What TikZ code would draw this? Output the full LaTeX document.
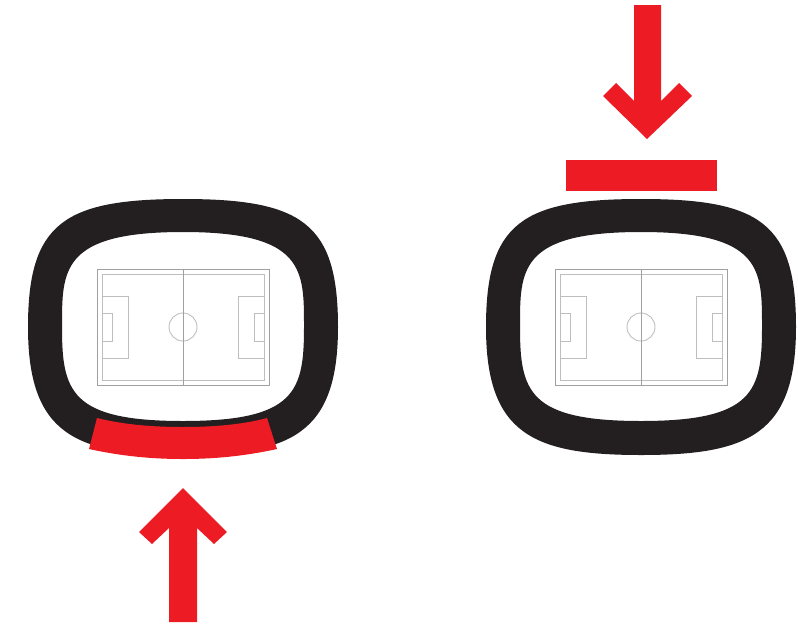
\documentclass[tikz,border=0pt]{standalone}
\definecolor{stadiumblack}{HTML}{231F20}
\definecolor{accentred}{HTML}{ED1C24}
\definecolor{pitchline}{HTML}{A0A0A0}
\definecolor{pitchlight}{HTML}{BEBEBE}
\tikzset{
  ring/.style={fill=stadiumblack,even odd rule,draw=none},
  accent/.style={fill=accentred,draw=none},
  pitchmark/.style={draw=pitchline,line width=0.9pt,fill=none},
  pitchfine/.style={draw=pitchlight,line width=0.9pt,fill=none}
}
\newcommand{\ringpath}{
  (0,-128) .. controls (-119,-128) and (-155,-104) .. (-155,0)
  .. controls (-155,107) and (-108,128) .. (0,128)
  .. controls (108,128) and (155,107) .. (155,0)
  .. controls (155,-104) and (119,-128) .. (0,-128) -- cycle
  (0,-95) .. controls (-122,-95) and (-121,-57) .. (-121,0)
  .. controls (-121,64) and (-113,94) .. (0,94)
  .. controls (113,94) and (121,64) .. (121,0)
  .. controls (121,-57) and (122,-95) .. (0,-95) -- cycle}
\newcommand{\pitchmarks}{
  \draw[pitchfine] (-81,-53) rectangle (81,53);
  \draw[pitchfine] (0,0) circle[radius=14];
  \draw[pitchfine] (-81,-31) rectangle (-55,31);
  \draw[pitchfine] (-81,-14) rectangle (-71,14);
  \draw[pitchfine] (81,-31) rectangle (55,31);
  \draw[pitchfine] (81,-14) rectangle (71,14);
  \draw[pitchmark] (-86,-58) rectangle (86,58);
  \draw[pitchmark] (0,-58) -- (0,58);
}
\begin{document}
\begin{tikzpicture}[x=1pt,y=-1pt]
\useasboundingbox (0,0) rectangle (798,625);
\begin{scope}[shift={(183,327)}]
  \fill[ring] \ringpath;
  \pitchmarks
\end{scope}
\begin{scope}[shift={(641,327)}]
  \fill[ring] \ringpath;
  \pitchmarks
\end{scope}
\fill[accent] (97,418) .. controls (125,425) and (155,427) .. (183,427)
  .. controls (211,427) and (241,425) .. (267,418) -- (277,449)
  .. controls (245,456) and (215,459) .. (183,459)
  .. controls (151,459) and (121,456) .. (89,449) -- cycle;
\fill[accent] (566,160) rectangle (717,191);
\fill[accent] (634,5) -- (661,5) -- (661,101) -- (679,83) -- (692,96) -- (647,139) -- (603,96) -- (616,83) -- (634,101) -- cycle;
\fill[accent] (169,622) -- (197,622) -- (197,528) -- (214,544) -- (227,532) -- (183,488) -- (139,532) -- (152,544) -- (169,528) -- cycle;
\end{tikzpicture}
\end{document}
